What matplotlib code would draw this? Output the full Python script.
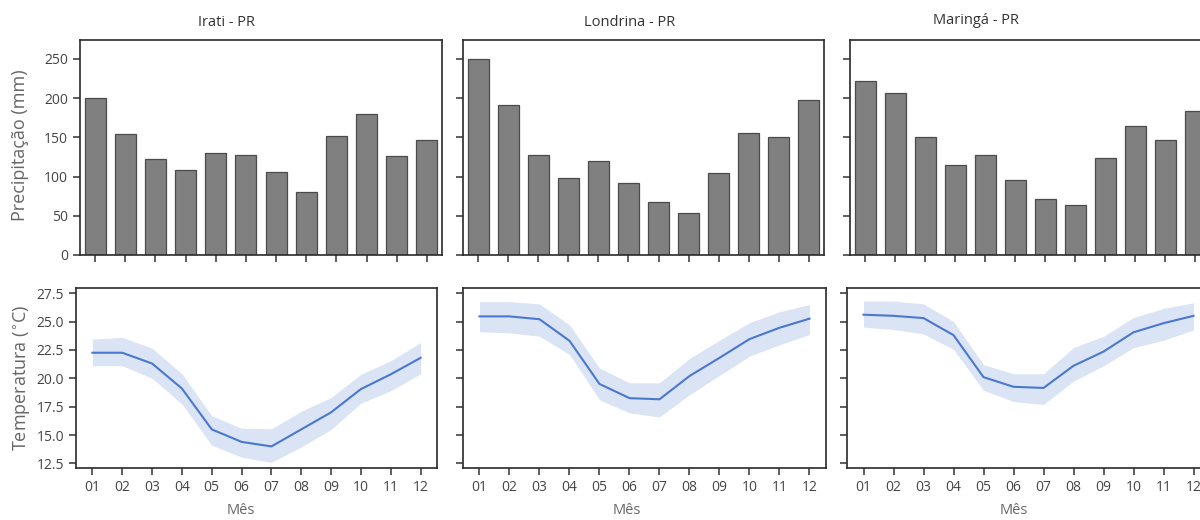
import matplotlib
matplotlib.use("Agg")
import matplotlib.pyplot as plt
import numpy as np

plt.rcParams['font.family'] = ['Open Sans', 'DejaVu Sans']

months = ["01", "02", "03", "04", "05", "06", "07", "08", "09", "10", "11", "12"]
cities = ["Irati - PR", "Londrina - PR", "Maringá - PR"]

precip_irati = [200, 154, 122, 108, 130, 127, 106, 80, 152, 180, 126, 146]
precip_londrina = [250, 191, 128, 98, 120, 92, 68, 53, 105, 155, 150, 197]
precip_maringa = [222, 207, 151, 115, 128, 95, 71, 64, 124, 164, 147, 184]

temp_irati = [22.25, 22.25, 21.3, 19.1, 15.5, 14.4, 14.0, 15.5, 17.0, 19.05, 20.35, 21.8]
temp_irati_lo = [21.1, 21.1, 20.0, 17.75, 14.1, 13.05, 12.6, 13.95, 15.5, 17.8, 18.9, 20.4]
temp_irati_hi = [23.45, 23.6, 22.65, 20.4, 16.7, 15.6, 15.55, 17.1, 18.3, 20.35, 21.55, 23.15]

temp_londrina = [25.45, 25.45, 25.2, 23.3, 19.5, 18.25, 18.15, 20.2, 21.8, 23.45, 24.45, 25.25]
temp_londrina_lo = [24.1, 24.0, 23.7, 22.1, 18.1, 16.95, 16.6, 18.55, 20.25, 21.95, 22.95, 23.85]
temp_londrina_hi = [26.75, 26.75, 26.55, 24.7, 20.9, 19.6, 19.6, 21.75, 23.35, 24.9, 25.85, 26.5]

temp_maringa = [25.6, 25.5, 25.3, 23.8, 20.1, 19.25, 19.15, 21.1, 22.35, 24.05, 24.85, 25.5]
temp_maringa_lo = [24.5, 24.3, 23.9, 22.55, 18.95, 17.95, 17.7, 19.75, 21.1, 22.7, 23.35, 24.25]
temp_maringa_hi = [26.8, 26.8, 26.55, 25.0, 21.2, 20.4, 20.4, 22.7, 23.7, 25.35, 26.15, 26.65]

precip = [precip_irati, precip_londrina, precip_maringa]
temps = [(temp_irati, temp_irati_lo, temp_irati_hi),
         (temp_londrina, temp_londrina_lo, temp_londrina_hi),
         (temp_maringa, temp_maringa_lo, temp_maringa_hi)]

W, H = 1200, 520
fig = plt.figure(figsize=(W / 100, H / 100), dpi=100)

def rect(left, top, right, bottom):
    return [left / W, 1 - bottom / H, (right - left) / W, (bottom - top) / H]

top_rects = [rect(80, 40, 442, 255), rect(463, 40, 824, 255), rect(850, 40, 1210, 255)]
bot_rects = [rect(76, 288, 437, 468), rect(463, 288, 826, 468), rect(847, 288, 1210, 468)]
title_x = [226, 630, 976]
title_y = [22, 22, 20]
xlabel_x = [241, 627, 1014]

spine_color = "#2a2a2a"
tick_color = "#333333"
label_color = "#666666"
blue = "#4a78cf"

x = np.arange(len(months))

for i in range(3):
    ax = fig.add_axes(top_rects[i])
    ax.bar(x, precip[i], width=0.7, color="#808080", edgecolor="#4a4a4a", linewidth=0.9)
    ax.set_xlim(-0.5, 11.5)
    ax.set_ylim(0, 274)
    ax.set_yticks([0, 50, 100, 150, 200, 250])
    ax.set_xticks(x)
    ax.set_xticklabels([])
    if i > 0:
        ax.set_yticklabels([])
    ax.tick_params(axis="both", colors=tick_color, labelsize=10, length=5, width=1.1, labelcolor="#444444")
    for s in ax.spines.values():
        s.set_color(spine_color)
        s.set_linewidth(1.2)
    fig.text(title_x[i] / W, 1 - title_y[i] / H, cities[i], ha="center", va="center",
             fontsize=10.5, color="#333333")

    ax2 = fig.add_axes(bot_rects[i])
    m, lo, hi = temps[i]
    ax2.fill_between(x, lo, hi, color=blue, alpha=0.2, linewidth=0)
    ax2.plot(x, m, color=blue, linewidth=1.5)
    ax2.set_xlim(-0.55, 11.55)
    ax2.set_ylim(12.1, 27.95)
    ax2.set_yticks([12.5, 15.0, 17.5, 20.0, 22.5, 25.0, 27.5])
    ax2.set_xticks(x)
    ax2.set_xticklabels(months)
    if i > 0:
        ax2.set_yticklabels([])
    ax2.tick_params(axis="both", colors=tick_color, labelsize=10, length=5, width=1.1, labelcolor="#444444")
    for s in ax2.spines.values():
        s.set_color(spine_color)
        s.set_linewidth(1.2)
    fig.text(xlabel_x[i] / W, 1 - 511 / H, "Mês", ha="center", va="center",
             fontsize=10.5, color=label_color)

fig.text(20 / W, 1 - 145 / H, "Precipitação (mm)", rotation=90, ha="center", va="center",
         fontsize=13, color=label_color)
fig.text(22 / W, 1 - 378 / H, "Temperatura ($^{\\circ}$C)", rotation=90, ha="center", va="center",
         fontsize=13, color=label_color)

fig.savefig("out.png", dpi=100)
